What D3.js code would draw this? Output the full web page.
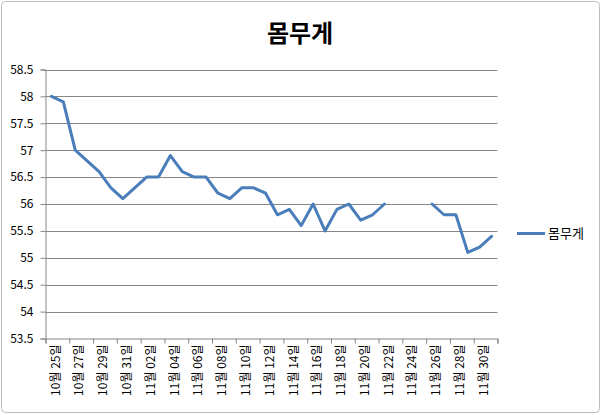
<!DOCTYPE html>
<html><head><meta charset="utf-8">
<script src="https://cdn.jsdelivr.net/npm/d3@7"></script>
<style>
html,body{margin:0;padding:0;background:#fff;}
svg{display:block;font-family:"Noto Sans CJK KR","Noto Sans",sans-serif;}
</style></head>
<body><svg id="c" width="602" height="415"></svg>
<script>
const title = "몸무게";
const seriesName = "몸무게";
const categories = ["10월 25일","10월 26일","10월 27일","10월 28일","10월 29일","10월 30일","10월 31일",
"11월 01일","11월 02일","11월 03일","11월 04일","11월 05일","11월 06일","11월 07일","11월 08일","11월 09일",
"11월 10일","11월 11일","11월 12일","11월 13일","11월 14일","11월 15일","11월 16일","11월 17일","11월 18일",
"11월 19일","11월 20일","11월 21일","11월 22일","11월 23일","11월 24일","11월 25일","11월 26일","11월 27일",
"11월 28일","11월 29일","11월 30일","12월 01일"];
const values = [58.0,57.9,57.0,56.8,56.6,56.3,56.1,56.3,56.5,56.5,56.9,56.6,56.5,56.5,56.2,56.1,
56.3,56.3,56.2,55.8,55.9,55.6,56.0,55.5,55.9,56.0,55.7,55.8,56.0,null,null,null,56.0,55.8,55.8,55.1,55.2,55.4];
const yTicks = [53.5,54,54.5,55,55.5,56,56.5,57,57.5,58,58.5];

(function(){
const svg = d3.select("#c");
svg.append("rect").attr("x",1.5).attr("y",1.5).attr("width",598).attr("height",411)
  .attr("rx",4).attr("fill","#fff").attr("stroke","#bdbdbd").attr("stroke-width",1);

const pL = 45.5, pR = 497.5, pT = 69.5, pB = 338.5;
const y = d3.scaleLinear().domain([53.5,58.5]).range([pB, pT]);
const x = d3.scaleBand().domain(categories).range([pL, pR]).padding(0);
const xi = d3.scaleLinear().domain([0, categories.length]).range([pL, pR]);

svg.append("g").selectAll("line").data(yTicks.slice(1)).join("line")
  .attr("x1",pL).attr("x2",pR).attr("y1",d=>Math.round(y(d))+0.5).attr("y2",d=>Math.round(y(d))+0.5)
  .attr("stroke","#868686").attr("stroke-width",1);

const yAxis = svg.append("g").attr("transform",`translate(${pL},0)`)
  .call(d3.axisLeft(y).tickValues(yTicks).tickSize(5).tickPadding(7).tickFormat(d=>String(d)));
yAxis.select(".domain").attr("stroke","#868686");
yAxis.selectAll(".tick line").attr("stroke","#868686");
yAxis.selectAll(".tick text").attr("font-size",12).attr("fill","#000").attr("font-family","\"Noto Sans CJK KR\",sans-serif");

const tickIdx = d3.range(0, categories.length+1, 2);
const xTickAxis = svg.append("g").attr("transform",`translate(0,${pB})`)
  .call(d3.axisBottom(xi).tickValues(tickIdx).tickSize(5).tickFormat(""));
xTickAxis.select(".domain").attr("stroke","#868686");
xTickAxis.selectAll(".tick line").attr("stroke","#868686");

const labelCats = categories.filter((d,i)=>i%2===0);
const xLabAxis = svg.append("g").attr("transform",`translate(0,${pB})`)
  .call(d3.axisBottom(x).tickValues(labelCats).tickSize(0));
xLabAxis.select(".domain").remove();
xLabAxis.selectAll(".tick text")
  .attr("font-size",12).attr("fill","#000").attr("font-family","\"Noto Sans CJK KR\",sans-serif")
  .attr("transform","translate(4,6) rotate(-90)")
  .attr("text-anchor","end").attr("dy","0.35em").attr("x",0).attr("y",0);

const line = d3.line().defined(d=>d.v!=null).x(d=>x(d.c)+x.bandwidth()/2).y(d=>y(d.v));
svg.append("path").datum(categories.map((c,i)=>({c, v: values[i]})))
  .attr("d",line).attr("fill","none").attr("stroke","#4a7ebb").attr("stroke-width",3)
  .attr("stroke-linejoin","round").attr("stroke-linecap","round");

svg.append("text").attr("x",300).attr("y",42).attr("text-anchor","middle")
  .attr("font-size",24).attr("font-weight","bold").attr("fill","#000").text(title);

svg.append("line").attr("x1",517).attr("x2",545).attr("y1",233.5).attr("y2",233.5)
  .attr("stroke","#4a7ebb").attr("stroke-width",3);
svg.append("text").attr("x",548).attr("y",238).attr("font-size",13).attr("fill","#000").text(seriesName);
})();
</script></body></html>
